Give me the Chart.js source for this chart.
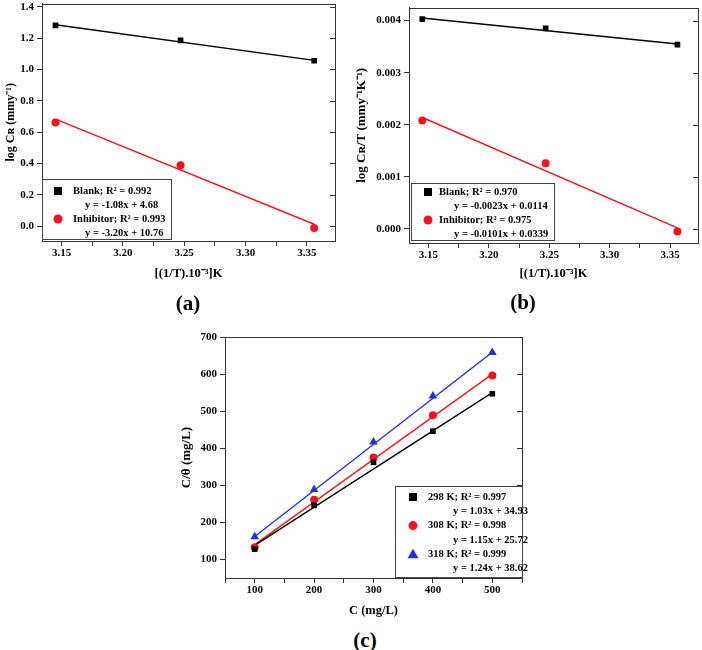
<!DOCTYPE html>
<html>
<head>
<meta charset="utf-8">
<script src="https://cdn.jsdelivr.net/npm/chart.js@4.4.0/dist/chart.umd.min.js"></script>
<style>
  body { margin: 0; background: #fff; width: 702px; height: 650px; position: relative; overflow: hidden; }
  canvas { position: absolute; }
  .cap { position: absolute; font-family: "Liberation Serif", serif; font-weight: bold; font-size: 21px; transform: translate(-50%, -50%); }
</style>
</head>
<body>
<canvas id="chartA" width="340" height="298" style="left:0;top:-6px"></canvas>
<canvas id="chartB" width="352" height="294" style="left:350px;top:-2px"></canvas>
<canvas id="chartC" width="360" height="295" style="left:175px;top:325px"></canvas>
<div class="cap" style="left:188px;top:303px">(a)</div>
<div class="cap" style="left:523px;top:302px">(b)</div>
<div class="cap" style="left:365px;top:640px">(c)</div>

<script>
// ---- data ----
const invTemp = [3.145, 3.247, 3.356];           // (1/T).10^-3
const blankLogCR = [1.281, 1.185, 1.055];
const inhibLogCR = [0.662, 0.388, -0.012];
const blankLogCRFit = [1.285, 1.058];            // fit line at first/last x
const inhibLogCRFit = [0.683, 0.012];

const blankLogCRT = [0.00403, 0.00385, 0.00354];
const inhibLogCRT = [0.00208, 0.00126, -0.00005];
const blankLogCRTFit = [0.00405, 0.00355];
const inhibLogCRTFit = [0.00214, 0.00002];

const conc = [100, 200, 300, 400, 500];          // C (mg/L)
const cTheta298 = [128, 246, 362, 446, 547];
const cTheta308 = [133, 261, 375, 489, 596];
const cTheta318 = [161, 289, 417, 541, 658];
const fit298 = [138, 550];
const fit308 = [140, 600];
const fit318 = [162, 659];

const legendA = [["Blank; R\u00B2 = 0.992", "y = -1.08x + 4.68"], ["Inhibitor; R\u00B2 = 0.993", "y = -3.20x + 10.76"]];
const legendB = [["Blank; R\u00B2 = 0.970", "y = -0.0023x + 0.0114"], ["Inhibitor; R\u00B2 = 0.975", "y = -0.0101x + 0.0339"]];
const legendC = [["298 K; R\u00B2 = 0.997", "y = 1.03x + 34.93"], ["308 K; R\u00B2 = 0.998", "y = 1.15x + 25.72"], ["318 K; R\u00B2 = 0.999", "y = 1.24x + 38.62"]];

const SERIF = '"Liberation Serif", "Times New Roman", serif';
Chart.defaults.font.family = SERIF;
Chart.defaults.font.weight = "bold";
Chart.defaults.color = "#000";
Chart.defaults.animation = false;

const BLACK = "#000", RED = "#f5141e", BLUE = "#2430d8";

function pts(xs, ys) { return xs.map((x, i) => ({ x: x, y: ys[i] })); }
function ends(xs, ys) { return [{ x: xs[0], y: ys[0] }, { x: xs[xs.length - 1], y: ys[1] }]; }

function scatterSet(data, color, style) {
  return { data: data, showLine: false, pointStyle: style, pointRadius: style === "triangle" ? 5 : 4,
           backgroundColor: color, borderColor: color, borderWidth: 0 };
}
function fitSet(data, color) {
  return { data: data, showLine: true, pointRadius: 0, borderColor: color, borderWidth: 1.4, fill: false };
}

function drawMarker(ctx, style, color, x, y) {
  ctx.fillStyle = color;
  ctx.beginPath();
  if (style === "rect") ctx.rect(x - 4, y - 4, 8, 8);
  else if (style === "circle") ctx.arc(x, y, 4.5, 0, Math.PI * 2);
  else { ctx.moveTo(x, y - 5.5); ctx.lineTo(x + 5.5, y + 4); ctx.lineTo(x - 5.5, y + 4); ctx.closePath(); }
  ctx.fill();
}

// frame with mirrored ticks + boxed two-line legend
const framePlugin = {
  id: "frame",
  afterDatasetsDraw(chart, args, opts) {
    const { ctx, chartArea: a, scales } = chart;
    ctx.save();
    ctx.strokeStyle = "#333";
    ctx.lineWidth = 1;
    ctx.strokeRect(Math.round(a.left) + 0.5, Math.round(a.top) + 0.5, Math.round(a.width), Math.round(a.height));
    scales.y.ticks.forEach(t => {
      const y = Math.round(scales.y.getPixelForValue(t.value)) + 0.5;
      ctx.beginPath(); ctx.moveTo(a.right, y); ctx.lineTo(a.right - 5, y); ctx.stroke();
    });
    const L = opts.legend;
    if (L) {
      const left = L.align === "right" ? a.right - L.w : a.left + L.dx;
      const top = a.bottom - L.dy - L.h;
      ctx.fillStyle = "#fff";
      ctx.fillRect(left, top, L.w, L.h);
      ctx.strokeStyle = "#444";
      ctx.strokeRect(Math.round(left) + 0.5, Math.round(top) + 0.5, Math.round(L.w), Math.round(L.h));
      ctx.font = "bold 10.5px " + SERIF;
      ctx.textBaseline = "middle";
      L.rows.forEach((r, i) => {
        const y1 = top + L.first + i * 2 * L.step;
        drawMarker(ctx, L.styles[i], L.colors[i], left + L.mx, y1);
        ctx.fillStyle = "#000";
        ctx.fillText(r[0], left + L.tx, y1);
        ctx.fillText(r[1], left + L.ex, y1 + L.step);
      });
    }
    ctx.restore();
  }
};

function axisBase(extra) {
  return Object.assign({
    type: "linear",
    grid: { drawOnChartArea: false, drawTicks: true, tickLength: 5, color: "#333" },
    border: { color: "#333" },
  }, extra);
}

function makeChart(id, datasets, o) {
  return new Chart(document.getElementById(id), {
    type: "scatter",
    data: { datasets: datasets },
    options: {
      responsive: false,
      layout: { padding: o.padding },
      plugins: { legend: { display: false }, tooltip: { enabled: false }, frame: { legend: o.legend } },
      scales: {
        x: axisBase({
          min: o.x.min, max: o.x.max,
          ticks: { stepSize: o.x.step, includeBounds: false, maxRotation: 0, autoSkip: false, padding: o.x.pad,
                   font: { size: 11, weight: "bold" }, callback: o.x.label },
          title: { display: true, text: o.x.title, font: { size: 12.5, weight: "bold" }, padding: { top: 4, bottom: o.x.tb } },
          afterFit: s => { s.height = o.x.h; }
        }),
        y: axisBase({
          min: o.y.min, max: o.y.max,
          ticks: { stepSize: o.y.step, includeBounds: false, autoSkip: false, padding: 3,
                   font: { size: 11, weight: "bold" }, callback: o.y.label },
          title: { display: true, text: o.y.title, font: { size: o.y.ts, weight: "bold" }, padding: { bottom: 2 } },
          afterFit: s => { s.width = o.y.w; }
        })
      }
    },
    plugins: [framePlugin]
  });
}

const xInvT = {
  min: 3.134, max: 3.373, step: 0.025, h: 51, pad: 1, tb: 11,
  title: "[(1/T).10\u207B\u00B3]K",
  label: v => (Math.round(v * 1000) % 50 === 0 ? v.toFixed(2) : "")
};

makeChart("chartA", [
  scatterSet(pts(invTemp, blankLogCR), BLACK, "rect"),
  scatterSet(pts(invTemp, inhibLogCR), RED, "circle"),
  fitSet(ends(invTemp, blankLogCRFit), BLACK),
  fitSet(ends(invTemp, inhibLogCRFit), RED)
], {
  padding: { left: 0, right: 5, top: 4, bottom: 0 },
  x: xInvT,
  y: { min: -0.095, max: 1.42, step: 0.2, w: 42, ts: 12, title: "log C\u0280 (mmy\u207B\u00B9)", label: v => v.toFixed(1) },
  legend: { rows: legendA, styles: ["rect", "circle"], colors: [BLACK, RED], align: "left",
            dx: 0, dy: 2, w: 129, h: 60, first: 12, step: 14, mx: 16, tx: 31, ex: 43 }
});

makeChart("chartB", [
  scatterSet(pts(invTemp, blankLogCRT), BLACK, "rect"),
  scatterSet(pts(invTemp, inhibLogCRT), RED, "circle"),
  fitSet(ends(invTemp, blankLogCRTFit), BLACK),
  fitSet(ends(invTemp, inhibLogCRTFit), RED)
], {
  padding: { left: 0, right: 4, top: 3, bottom: 0 },
  x: Object.assign({}, xInvT, { h: 49, pad: 1, tb: 11 }),
  y: { min: -0.00027, max: 0.00425, step: 0.001, w: 59, ts: 13, title: "log C\u0280/T (mmy\u207B\u00B9K\u207B\u00B9)", label: v => v.toFixed(3) },
  legend: { rows: legendB, styles: ["rect", "circle"], colors: [BLACK, RED], align: "left",
            dx: 2, dy: 3, w: 143, h: 57, first: 9, step: 14, mx: 17, tx: 28, ex: 43 }
});

makeChart("chartC", [
  scatterSet(pts(conc, cTheta298), BLACK, "rect"),
  scatterSet(pts(conc, cTheta308), RED, "circle"),
  scatterSet(pts(conc, cTheta318), BLUE, "triangle"),
  fitSet(ends(conc, fit298), BLACK),
  fitSet(ends(conc, fit308), RED),
  fitSet(ends(conc, fit318), BLUE)
], {
  padding: { left: 0, right: 13, top: 12, bottom: 0 },
  x: { min: 50, max: 550, step: 50, h: 42, pad: 1, tb: 2, title: "C (mg/L)", label: v => (v % 100 === 0 ? String(v) : "") },
  y: { min: 50, max: 700, step: 100, w: 50, ts: 13, title: "C/\u03B8 (mg/L)", label: v => String(v) },
  legend: { rows: legendC, styles: ["rect", "circle", "triangle"], colors: [BLACK, RED, BLUE], align: "right",
            dx: 0, dy: 1, w: 127, h: 91, first: 11, step: 14.3, mx: 18, tx: 33, ex: 58 }
});
</script>
</body>
</html>
